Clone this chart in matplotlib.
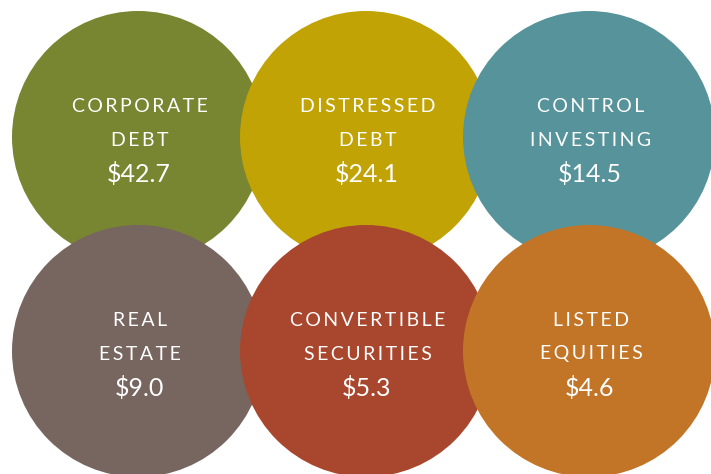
import matplotlib.pyplot as plt
from matplotlib.patches import Circle

# data
labels = [["CORPORATE", "DEBT"], ["DISTRESSED", "DEBT"], ["CONTROL", "INVESTING"],
          ["REAL", "ESTATE"], ["CONVERTIBLE", "SECURITIES"], ["LISTED", "EQUITIES"]]
values = [42.7, 24.1, 14.5, 9.0, 5.3, 4.6]
colors = ["#788531", "#c1a305", "#56939a", "#77655f", "#a8472d", "#c37527"]

W, H = 711, 474
fig = plt.figure(figsize=(W / 100, H / 100), dpi=100)
ax = fig.add_axes([0, 0, 1, 1])
ax.set_xlim(0, W)
ax.set_ylim(H, 0)
ax.set_aspect("equal")
ax.axis("off")

r = 126
col_x = [138, 366, 589]
row_y = [137, 351]
spaced = lambda s: "\u2009".join(s)
fam = ["Lato", "DejaVu Sans"]

for i, (lab, val, c) in enumerate(zip(labels, values, colors)):
    cx, cy = col_x[i % 3], row_y[i // 3]
    ax.add_patch(Circle((cx, cy), r, color=c, lw=0))
    ax.text(cx + 2, cy - 31, spaced(lab[0]), color="white", fontsize=14,
            family=fam, ha="center", va="center")
    ax.text(cx + 2, cy + 3, spaced(lab[1]), color="white", fontsize=14,
            family=fam, ha="center", va="center")
    ax.text(cx + 1, cy + 37, f"${val:.1f}", color="white", fontsize=18,
            family=fam, ha="center", va="center")

fig.savefig("out.png", dpi=100)
